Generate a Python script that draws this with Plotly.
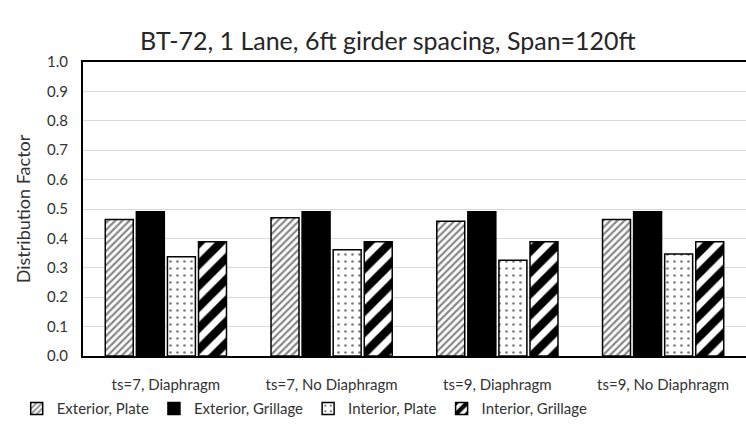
import plotly.graph_objects as go

# Load-case categories and distribution factors per model
categories = ["ts=7, Diaphragm", "ts=7, No Diaphragm", "ts=9, Diaphragm", "ts=9, No Diaphragm"]
exterior_plate = [0.464, 0.470, 0.458, 0.464]
exterior_grillage = [0.491, 0.491, 0.491, 0.491]
interior_plate = [0.338, 0.361, 0.326, 0.347]
interior_grillage = [0.389, 0.389, 0.389, 0.389]
y_ticks = [round(0.1 * i, 1) for i in range(11)]

FONT = "Lato"
TXT = "#333333"

series = [
    ("Exterior, Plate", exterior_plate, dict(shape="/", size=5, solidity=0.45, fgcolor="#111", bgcolor="white")),
    ("Exterior, Grillage", exterior_grillage, None),
    ("Interior, Plate", interior_plate, dict(shape=".", size=7, solidity=0.12, fgcolor="black", bgcolor="white")),
    ("Interior, Grillage", interior_grillage, dict(shape="/", size=15, solidity=0.55, fgcolor="black",
                                                   fgopacity=1, bgcolor="white")),
]

fig = go.Figure()
for name, vals, pat in series:
    marker = dict(color="black" if pat is None else "white", line=dict(color="black", width=1.5))
    if pat is not None:
        marker["pattern"] = pat
    fig.add_trace(go.Bar(name=name, x=categories, y=vals, marker=marker))

fig.update_layout(
    width=746, height=437,
    margin=dict(l=83, r=0, t=62, b=81, autoexpand=False),
    paper_bgcolor="white", plot_bgcolor="white",
    barmode="group", bargap=0.25, bargroupgap=0.1,
    font=dict(family=FONT, size=15, color=TXT),
    title=dict(text="BT-72, 1 Lane, 6ft girder spacing, Span=120ft",
               x=0.52, xanchor="center", y=0.905, yanchor="middle",
               font=dict(family=FONT, size=25, color="#262626")),
    legend=dict(orientation="h", x=-0.1, xanchor="left", y=-0.123, yanchor="top",
                bgcolor="rgba(0,0,0,0)",
                font=dict(family=FONT, size=15, color=TXT),
                itemwidth=30, traceorder="normal"),
    showlegend=True,
)
fig.update_yaxes(range=[0, 1.0], tickvals=y_ticks, ticktext=[f"{v:.1f}" for v in y_ticks],
                 showgrid=True, gridcolor="#d9d9d9", gridwidth=1,
                 showline=True, linecolor="black", linewidth=2, mirror=False,
                 ticks="", ticklen=0, ticklabelstandoff=10, tickfont=dict(size=15, color=TXT),
                 title=dict(text="Distribution Factor", font=dict(size=18, color=TXT), standoff=12),
                 zeroline=False)
fig.update_xaxes(showline=True, linecolor="black", linewidth=2, mirror=True,
                 ticks="", ticklabelstandoff=14, tickfont=dict(size=15, color=TXT))

fig.write_html("out.html")
